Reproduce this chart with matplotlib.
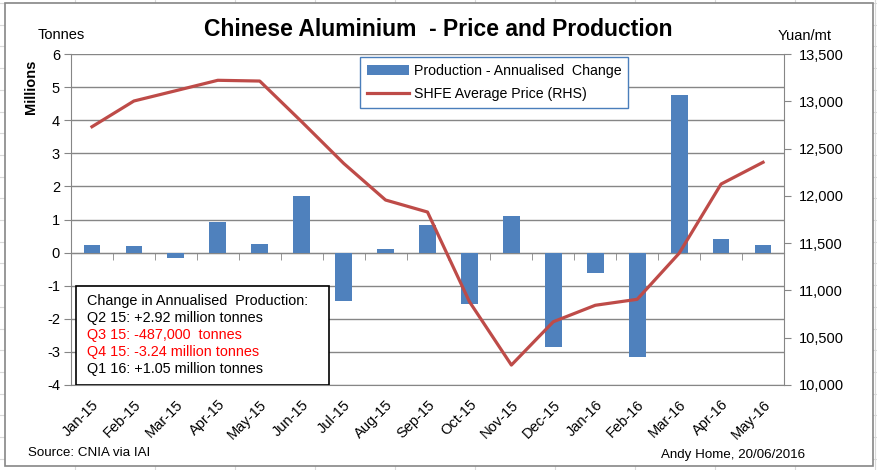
import matplotlib.pyplot as plt
from matplotlib.patches import Rectangle
from matplotlib.lines import Line2D
import numpy as np

plt.rcParams['font.family'] = ['Liberation Sans', 'DejaVu Sans']
plt.rcParams['axes.unicode_minus'] = False

months = ['Jan-15', 'Feb-15', 'Mar-15', 'Apr-15', 'May-15', 'Jun-15', 'Jul-15', 'Aug-15',
          'Sep-15', 'Oct-15', 'Nov-15', 'Dec-15', 'Jan-16', 'Feb-16', 'Mar-16', 'Apr-16', 'May-16']
production_change = [0.22, 0.19, -0.16, 0.92, 0.25, 1.70, -1.46, 0.10,
                     0.82, -1.55, 1.12, -2.85, -0.62, -3.15, 4.77, 0.40, 0.22]
shfe_price = [12731, 13003, 13112, 13222, 13214, 12784, 12344, 11956,
              11829, 10881, 10211, 10669, 10843, 10906, 11393, 12125, 12355]

box_lines = ['Change in Annualised  Production:', 'Q2 15: +2.92 million tonnes',
             'Q3 15: -487,000  tonnes', 'Q4 15: -3.24 million tonnes', 'Q1 16: +1.05 million tonnes']
box_colors = ['black', 'black', 'red', 'red', 'black']

bar_col = '#4F81BD'
line_col = '#BE4B48'
grid_col = '#868686'

fig = plt.figure(figsize=(8.77, 4.70), dpi=100)

# spreadsheet cells behind the chart
for xc in np.arange(74.7, 877, 80):
    fig.add_artist(Line2D([xc / 877, xc / 877], [0, 1], color='#D9D9D9', lw=0.8, zorder=-3))
for yc in np.arange(3, 470, 21.7):
    fig.add_artist(Line2D([0, 1], [1 - yc / 470, 1 - yc / 470], color='#D9D9D9', lw=0.8, zorder=-3))
fig.add_artist(Rectangle((5 / 877, 4 / 470), 868 / 877, 463 / 470, facecolor='white',
                         edgecolor='#868686', lw=1.2, zorder=-2))

ax = fig.add_axes([71 / 877, 85 / 470, 713 / 877, 331 / 470])
x = np.arange(len(months))
ax.bar(x, production_change, width=0.4, color=bar_col, zorder=3,
       label='Production - Annualised  Change')
ax.set_xlim(-0.5, len(months) - 0.5)
ax.set_ylim(-4, 6)
ax.set_yticks(range(-4, 7))
ax.yaxis.grid(True, color=grid_col, lw=1)
ax.set_axisbelow(True)
for s in ['top', 'right']:
    ax.spines[s].set_visible(False)
ax.spines['left'].set_color(grid_col)
ax.spines['bottom'].set_color(grid_col)
ax.tick_params(axis='y', length=5, color=grid_col, labelsize=10.5, pad=3)
ax.set_xticks(x)
ax.set_xticklabels(months, rotation=45, ha='right', rotation_mode='anchor', fontsize=10.5)
ax.tick_params(axis='x', length=0, pad=9)

# category axis sits on the zero line
sec = ax.secondary_xaxis(0.4)
sec.set_xticks([])
sec.set_xticks(np.arange(0.5, len(months) - 1, 1), minor=True)
sec.tick_params(which='minor', length=5, color=grid_col, direction='out')
sec.spines['bottom'].set_color(grid_col)

ax2 = ax.twinx()
ax2.plot(x, shfe_price, color=line_col, lw=2.3, zorder=4, label='SHFE Average Price (RHS)')
ax2.set_ylim(10000, 13500)
ax2.set_yticks(range(10000, 13501, 500))
ax2.set_yticklabels([f'{v:,}' for v in range(10000, 13501, 500)])
for s in ['top', 'left', 'bottom']:
    ax2.spines[s].set_visible(False)
ax2.spines['right'].set_color(grid_col)
ax2.tick_params(axis='y', length=5, color=grid_col, labelsize=10.5, pad=6)

h1, l1 = ax.get_legend_handles_labels()
h2, l2 = ax2.get_legend_handles_labels()
leg = ax2.legend(h1 + h2, l1 + l2, loc='upper left', bbox_to_anchor=(0.405, 0.99),
                 fancybox=False, edgecolor='#4A7EBB', framealpha=1, fontsize=10.2,
                 handlelength=3, borderpad=0.5, labelspacing=0.6, borderaxespad=0,
                 handletextpad=0.3)
leg.get_frame().set_linewidth(1)

# annotation box
ax2.add_patch(Rectangle((0.0065, 0.0), 0.356, 0.30, transform=ax.transAxes, fill=True,
                        facecolor='white', edgecolor='black', lw=1.2, zorder=5))
for i, (t, c) in enumerate(zip(box_lines, box_colors)):
    ax2.text(0.023, 0.255 - i * 0.052, t, color=c, fontsize=10.4, transform=ax.transAxes,
             va='center', ha='left', zorder=6)

fig.text(438 / 877, 1 - 30 / 470, 'Chinese Aluminium  - Price and Production', ha='center', va='center',
         fontsize=16.5, fontweight='bold')
fig.text(61 / 877, 1 - 35 / 470, 'Tonnes', ha='center', va='center', fontsize=10.5)
fig.text(31 / 877, 1 - 87 / 470, 'Millions', ha='center', va='center', fontsize=10.5,
         fontweight='bold', rotation=90)
fig.text(805 / 877, 1 - 36 / 470, 'Yuan/mt', ha='center', va='center', fontsize=10.5)
fig.text(28 / 877, 1 - 453 / 470, 'Source: CNIA via IAI', ha='left', va='center', fontsize=9.6)
fig.text(805 / 877, 1 - 455 / 470, 'Andy Home, 20/06/2016', ha='right', va='center', fontsize=9.6)

fig.savefig('out.png', dpi=100)
